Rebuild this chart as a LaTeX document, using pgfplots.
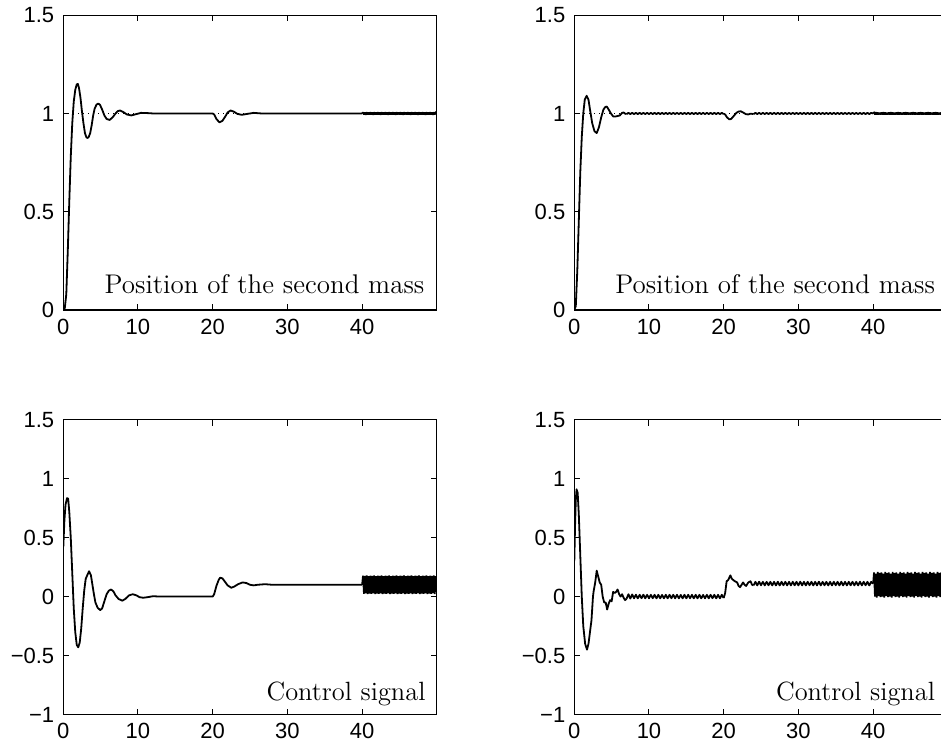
\documentclass[border=0pt]{standalone}
\usepackage{fontspec}
\setsansfont{Liberation Sans}
\usepackage{pgfplots}
\usepackage{pgfplotstable}
\pgfplotsset{compat=1.18}

% band 40..50 (dense oscillation): x, top-left, top-right, bottom-left, bottom-right
\pgfplotstableread{
x tl tr bl br
40.000 1.000 1.000 0.100 0.110
40.125 1.006 1.005 0.178 0.205
40.250 0.994 0.995 0.024 0.000
40.375 1.005 1.006 0.175 0.195
40.500 0.993 0.994 0.028 -0.008
40.625 1.006 1.005 0.180 0.210
40.750 0.995 0.995 0.022 0.004
40.875 1.005 1.004 0.173 0.200
41.000 0.994 0.995 0.026 -0.005
41.125 1.006 1.005 0.178 0.205
41.250 0.994 0.995 0.024 0.000
41.375 1.005 1.006 0.175 0.195
41.500 0.993 0.994 0.028 -0.008
41.625 1.006 1.005 0.180 0.210
41.750 0.995 0.995 0.022 0.004
41.875 1.005 1.004 0.173 0.200
42.000 0.994 0.995 0.026 -0.005
42.125 1.006 1.005 0.178 0.205
42.250 0.994 0.995 0.024 0.000
42.375 1.005 1.006 0.175 0.195
42.500 0.993 0.994 0.028 -0.008
42.625 1.006 1.005 0.180 0.210
42.750 0.995 0.995 0.022 0.004
42.875 1.005 1.004 0.173 0.200
43.000 0.994 0.995 0.026 -0.005
43.125 1.006 1.005 0.178 0.205
43.250 0.994 0.995 0.024 0.000
43.375 1.005 1.006 0.175 0.195
43.500 0.993 0.994 0.028 -0.008
43.625 1.006 1.005 0.180 0.210
43.750 0.995 0.995 0.022 0.004
43.875 1.005 1.004 0.173 0.200
44.000 0.994 0.995 0.026 -0.005
44.125 1.006 1.005 0.178 0.205
44.250 0.994 0.995 0.024 0.000
44.375 1.005 1.006 0.175 0.195
44.500 0.993 0.994 0.028 -0.008
44.625 1.006 1.005 0.180 0.210
44.750 0.995 0.995 0.022 0.004
44.875 1.005 1.004 0.173 0.200
45.000 0.994 0.995 0.026 -0.005
45.125 1.006 1.005 0.178 0.205
45.250 0.994 0.995 0.024 0.000
45.375 1.005 1.006 0.175 0.195
45.500 0.993 0.994 0.028 -0.008
45.625 1.006 1.005 0.180 0.210
45.750 0.995 0.995 0.022 0.004
45.875 1.005 1.004 0.173 0.200
46.000 0.994 0.995 0.026 -0.005
46.125 1.006 1.005 0.178 0.205
46.250 0.994 0.995 0.024 0.000
46.375 1.005 1.006 0.175 0.195
46.500 0.993 0.994 0.028 -0.008
46.625 1.006 1.005 0.180 0.210
46.750 0.995 0.995 0.022 0.004
46.875 1.005 1.004 0.173 0.200
47.000 0.994 0.995 0.026 -0.005
47.125 1.006 1.005 0.178 0.205
47.250 0.994 0.995 0.024 0.000
47.375 1.005 1.006 0.175 0.195
47.500 0.993 0.994 0.028 -0.008
47.625 1.006 1.005 0.180 0.210
47.750 0.995 0.995 0.022 0.004
47.875 1.005 1.004 0.173 0.200
48.000 0.994 0.995 0.026 -0.005
48.125 1.006 1.005 0.178 0.205
48.250 0.994 0.995 0.024 0.000
48.375 1.005 1.006 0.175 0.195
48.500 0.993 0.994 0.028 -0.008
48.625 1.006 1.005 0.180 0.210
48.750 0.995 0.995 0.022 0.004
48.875 1.005 1.004 0.173 0.200
49.000 0.994 0.995 0.026 -0.005
49.125 1.006 1.005 0.178 0.205
49.250 0.994 0.995 0.024 0.000
49.375 1.005 1.006 0.175 0.195
49.500 0.993 0.994 0.028 -0.008
49.625 1.006 1.005 0.180 0.210
49.750 0.995 0.995 0.022 0.004
49.875 1.005 1.004 0.173 0.200
50.000 1.000 1.000 0.100 0.100
}\bandtab

% ripple 7..20 for right-hand plots
\pgfplotstableread{
x tr br
7.00 0.997 -0.018
7.25 1.003 0.020
7.50 0.997 -0.017
7.75 1.003 0.018
8.00 0.997 -0.015
8.25 1.003 0.016
8.50 0.997 -0.015
8.75 1.003 0.015
9.00 0.997 -0.014
9.25 1.003 0.016
9.50 0.997 -0.015
9.75 1.003 0.015
10.00 0.997 -0.015
10.25 1.003 0.015
10.50 0.997 -0.014
10.75 1.003 0.015
11.00 0.997 -0.015
11.25 1.003 0.015
11.50 0.997 -0.015
11.75 1.003 0.014
12.00 0.997 -0.015
12.25 1.003 0.015
12.50 0.997 -0.015
12.75 1.003 0.015
13.00 0.997 -0.014
13.25 1.003 0.015
13.50 0.997 -0.015
13.75 1.003 0.015
14.00 0.997 -0.015
14.25 1.003 0.014
14.50 0.997 -0.015
14.75 1.003 0.015
15.00 0.997 -0.015
15.25 1.003 0.015
15.50 0.997 -0.014
15.75 1.003 0.015
16.00 0.997 -0.015
16.25 1.003 0.015
16.50 0.997 -0.015
16.75 1.003 0.015
17.00 0.997 -0.015
17.25 1.003 0.014
17.50 0.997 -0.015
17.75 1.003 0.015
18.00 0.997 -0.015
18.25 1.003 0.015
18.50 0.997 -0.014
18.75 1.003 0.015
19.00 0.997 -0.015
19.25 1.003 0.015
19.50 0.997 -0.015
19.75 1.003 0.015
20.00 0.997 -0.012
}\ripA

% ripple 24..40 for right-hand plots
\pgfplotstableread{
x tr br
24.00 0.997 0.095
24.25 1.003 0.125
24.50 0.997 0.095
24.75 1.003 0.126
25.00 0.997 0.096
25.25 1.003 0.125
25.50 0.997 0.095
25.75 1.003 0.125
26.00 0.997 0.096
26.25 1.003 0.125
26.50 0.997 0.095
26.75 1.003 0.125
27.00 0.997 0.095
27.25 1.003 0.126
27.50 0.997 0.095
27.75 1.003 0.125
28.00 0.997 0.096
28.25 1.003 0.125
28.50 0.997 0.095
28.75 1.003 0.125
29.00 0.997 0.095
29.25 1.003 0.125
29.50 0.997 0.096
29.75 1.003 0.125
30.00 0.997 0.095
30.25 1.003 0.126
30.50 0.997 0.095
30.75 1.003 0.125
31.00 0.997 0.095
31.25 1.003 0.125
31.50 0.997 0.096
31.75 1.003 0.125
32.00 0.997 0.095
32.25 1.003 0.125
32.50 0.997 0.095
32.75 1.003 0.126
33.00 0.997 0.095
33.25 1.003 0.125
33.50 0.997 0.096
33.75 1.003 0.125
34.00 0.997 0.095
34.25 1.003 0.125
34.50 0.997 0.095
34.75 1.003 0.125
35.00 0.997 0.096
35.25 1.003 0.125
35.50 0.997 0.095
35.75 1.003 0.126
36.00 0.997 0.095
36.25 1.003 0.125
36.50 0.997 0.095
36.75 1.003 0.125
37.00 0.997 0.096
37.25 1.003 0.125
37.50 0.997 0.095
37.75 1.003 0.125
38.00 0.997 0.095
38.25 1.003 0.126
38.50 0.997 0.095
38.75 1.003 0.125
39.00 0.997 0.096
39.25 1.003 0.125
39.50 0.997 0.095
39.75 1.003 0.125
40.00 1.000 0.110
}\ripB

\pgfplotsset{
  panel/.style={
    scale only axis, width=186.7pt, height=147.4pt,
    anchor=south west,
    xmin=0, xmax=50,
    xtick={0,10,20,30,40}, xticklabels={0,10,20,30,40},
    tick align=inside, major tick length=3pt,
    axis line style={line width=0.6pt},
    every tick/.style={black, line width=0.5pt},
    tick label style={font=\fontsize{11}{13}\selectfont\sffamily},
    xticklabel style={yshift=-1pt},
    yticklabel style={xshift=-1pt},
  },
  toppanel/.style={panel, ymin=0, ymax=1.5,
    ytick={0,0.5,1,1.5}, yticklabels={0,0.5,1,1.5}},
  botpanel/.style={panel, ymin=-1, ymax=1.5,
    ytick={-1,-0.5,0,0.5,1,1.5}, yticklabels={−1,−0.5,0,0.5,1,1.5}},
  curve/.style={black, line width=0.9pt, line join=round},
  bandline/.style={black, line width=0.8pt, line join=miter, miter limit=2},
  reflin/.style={black, dotted, line width=0.5pt},
}

\begin{document}
\begin{tikzpicture}
% ---------- top left ----------
\begin{axis}[toppanel, at={(31.65pt,219.5pt)}]
\addplot[reflin] coordinates {(0,1) (50,1)};
\addplot[curve] coordinates {
(0,0) (0.2,0.01) (0.4,0.08) (0.6,0.3) (0.8,0.55) (1.0,0.78) (1.2,0.95)
(1.4,1.06) (1.6,1.12) (1.8,1.148) (1.95,1.15) (2.1,1.13) (2.3,1.08)
(2.5,1.01) (2.7,0.95) (2.9,0.9) (3.1,0.878) (3.25,0.875) (3.4,0.88)
(3.6,0.9) (3.8,0.94) (4.0,0.99) (4.2,1.025) (4.45,1.045) (4.67,1.05)
(4.9,1.045) (5.2,1.02) (5.5,0.99) (5.8,0.972) (6.2,0.967) (6.6,0.98)
(7.0,1.0) (7.3,1.012) (7.6,1.015) (8.0,1.008) (8.5,0.995) (9.1,0.99)
(9.7,0.996) (10.4,1.003) (11.2,1.002) (12,1.0) (20,1.0) (20.2,0.995)
(20.5,0.972) (20.9,0.955) (21.3,0.962) (21.7,0.985) (22.0,1.005)
(22.4,1.015) (22.8,1.01) (23.3,0.998) (23.9,0.993) (24.5,0.997)
(25.5,1.003) (26.5,1.0) (40,1.0)};
\addplot[bandline] table[x=x, y=tl] {\bandtab};
\node[anchor=base east, font=\fontsize{13.5}{15}\selectfont, inner sep=0pt]
  at (rel axis cs:0.968,0.057) {Position of the second mass};
\end{axis}

% ---------- top right ----------
\begin{axis}[toppanel, at={(287.15pt,219.5pt)}]
\addplot[reflin] coordinates {(0,1) (50,1)};
\addplot[curve] coordinates {
(0,0) (0.2,0.02) (0.4,0.2) (0.6,0.45) (0.8,0.7) (1.0,0.88) (1.2,1.0)
(1.4,1.07) (1.65,1.09) (1.9,1.07) (2.1,1.02) (2.4,0.95) (2.7,0.91)
(3.0,0.9) (3.3,0.93) (3.6,0.98) (3.9,1.02) (4.15,1.033) (4.35,1.035)
(4.6,1.02) (4.9,1.0) (5.2,0.985) (5.45,0.984) (5.8,0.987) (6.1,0.99)
(6.4,1.003) (6.6,1.005) (6.8,0.999) (7.0,0.997)};
\addplot[curve] table[x=x, y=tr] {\ripA};
\addplot[curve] coordinates {
(20.0,0.997) (20.2,0.995) (20.45,0.98) (20.75,0.97) (21.0,0.972)
(21.3,0.985) (21.7,1.003) (22.0,1.01) (22.3,1.011) (22.6,1.005)
(23.0,0.996) (23.3,0.995) (23.6,0.999) (24.0,0.997)};
\addplot[curve] table[x=x, y=tr] {\ripB};
\addplot[bandline] table[x=x, y=tr] {\bandtab};
\node[anchor=base east, font=\fontsize{13.5}{15}\selectfont, inner sep=0pt]
  at (rel axis cs:0.967,0.057) {Position of the second mass};
\end{axis}

% ---------- bottom left ----------
\begin{axis}[botpanel, at={(31.65pt,17.25pt)}]
\addplot[curve] coordinates {
(0,0.42) (0.15,0.65) (0.3,0.78) (0.5,0.835) (0.65,0.83) (0.8,0.72)
(1.0,0.5) (1.2,0.2) (1.4,-0.1) (1.6,-0.3) (1.8,-0.41) (2.0,-0.43)
(2.2,-0.39) (2.4,-0.27) (2.6,-0.1) (2.8,0.05) (3.0,0.15) (3.2,0.18)
(3.45,0.215) (3.7,0.18) (3.9,0.1) (4.1,0.02) (4.3,-0.05) (4.6,-0.095)
(4.95,-0.115) (5.2,-0.1) (5.5,-0.04) (5.8,0.02) (6.1,0.05) (6.4,0.06)
(6.7,0.045) (7.0,0.01) (7.4,-0.02) (7.9,-0.035) (8.3,-0.02) (8.8,0.01)
(9.3,0.02) (9.8,0.01) (10.2,-0.005) (10.7,-0.01) (11.3,-0.005)
(12,0.003) (13,0.0) (20,0.0) (20.2,0.02) (20.5,0.09) (20.8,0.14)
(21.0,0.16) (21.3,0.155) (21.6,0.13) (22.0,0.095) (22.5,0.075)
(22.9,0.085) (23.4,0.105) (24.0,0.12) (24.5,0.115) (25.0,0.1)
(25.5,0.095) (26.0,0.1) (27,0.105) (28,0.1) (40,0.1)};
\addplot[bandline] table[x=x, y=bl] {\bandtab};
\node[anchor=base east, font=\fontsize{13.2}{15}\selectfont, inner sep=0pt]
  at (rel axis cs:0.971,0.049) {Control signal};
\end{axis}

% ---------- bottom right ----------
\begin{axis}[botpanel, at={(287.15pt,17.25pt)}]
\addplot[curve] coordinates {
(0,0.3) (0.1,0.6) (0.2,0.82) (0.3,0.91) (0.45,0.88) (0.6,0.7) (0.8,0.35)
(1.0,0.0) (1.2,-0.25) (1.45,-0.4) (1.7,-0.45) (1.9,-0.4) (2.1,-0.3)
(2.3,-0.2) (2.5,0.0) (2.6,0.05) (2.8,0.12) (3.0,0.22) (3.2,0.17)
(3.4,0.12) (3.6,0.1) (3.8,0.0) (4.0,-0.05) (4.2,-0.05) (4.4,-0.11)
(4.6,-0.06) (4.8,-0.03) (5.0,-0.04) (5.2,0.04) (5.4,0.03) (5.6,0.04)
(5.8,0.06) (6.0,0.02) (6.2,0.0) (6.4,0.02) (6.6,-0.01) (6.8,-0.03)
(7.0,-0.018)};
\addplot[curve] table[x=x, y=br] {\ripA};
\addplot[curve] coordinates {
(20.0,-0.012) (20.2,0.03) (20.4,0.13) (20.6,0.14) (20.9,0.18)
(21.1,0.15) (21.3,0.14) (21.5,0.13) (21.8,0.12) (22.0,0.09)
(22.2,0.08) (22.4,0.1) (22.6,0.12) (22.8,0.10) (23.0,0.09)
(23.3,0.12) (23.6,0.13) (23.8,0.1) (24.0,0.095)};
\addplot[curve] table[x=x, y=br] {\ripB};
\addplot[bandline] table[x=x, y=br] {\bandtab};
\node[anchor=base east, font=\fontsize{13.2}{15}\selectfont, inner sep=0pt]
  at (rel axis cs:0.967,0.046) {Control signal};
\end{axis}

\pgfresetboundingbox
\path[use as bounding box] (0,0) rectangle (470.5pt,374.5pt);
\end{tikzpicture}
\end{document}
